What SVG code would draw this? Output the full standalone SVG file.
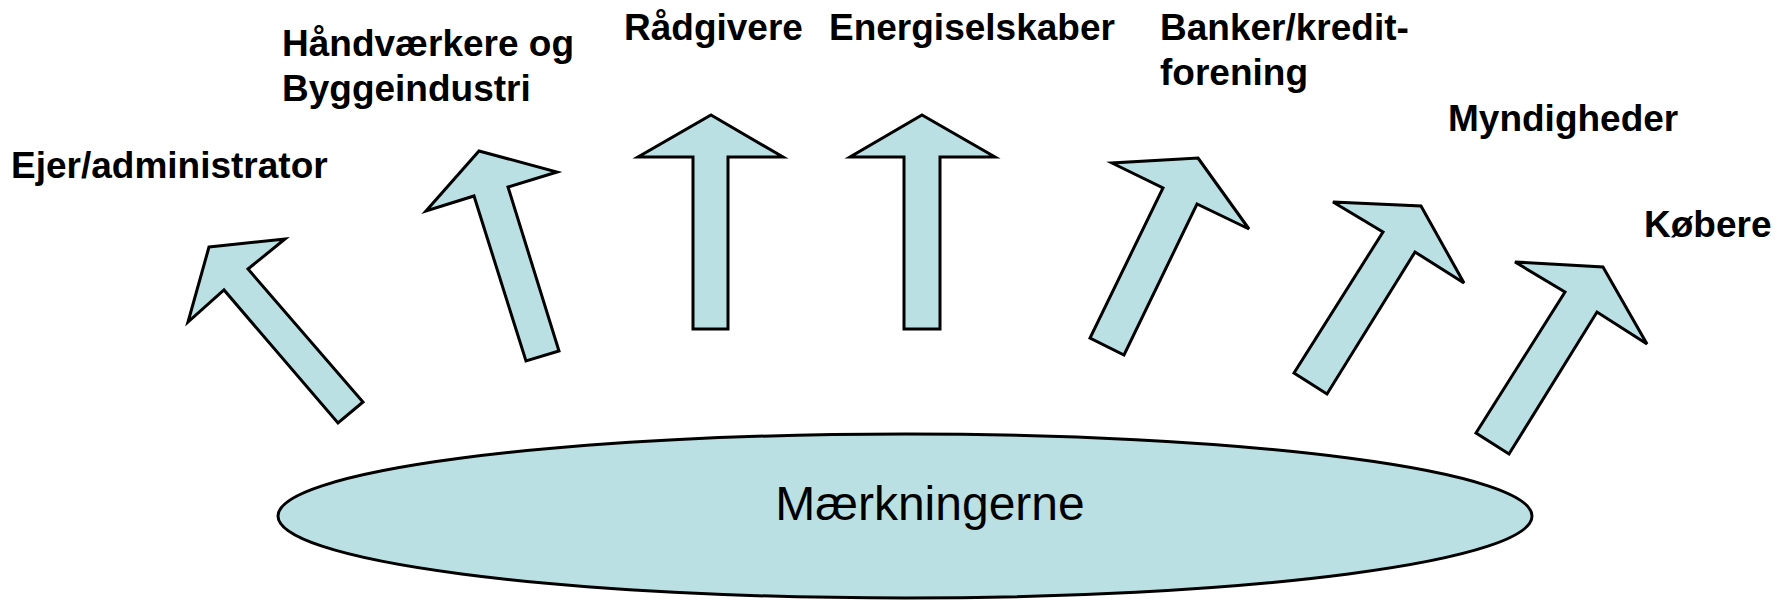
<svg xmlns="http://www.w3.org/2000/svg" width="1788" height="600" viewBox="0 0 1788 600">
  <style>
    .arrow { fill: #BAE0E3; stroke: #000; stroke-width: 3; stroke-linejoin: miter; }
    .lbl { font-family: "Liberation Sans", Arial, sans-serif; font-weight: bold; font-size: 37px; fill: #000; }
    .main { font-family: "Liberation Sans", Arial, sans-serif; font-size: 48px; fill: #000; }
  </style>
  <rect width="1788" height="600" fill="#fff"/>
  <g id="node-maerkningerne">
    <ellipse cx="905" cy="516" rx="627" ry="82" fill="#BAE0E3" stroke="#000" stroke-width="3"/>
    <text class="main" x="930" y="520" text-anchor="middle">Mærkningerne</text>
  </g>
  <g id="connectors">
    <polygon id="arrow-ejer" class="arrow" points="209,247 285,239 248,269 363,402 338,423 224,290 188,322"/>
    <polygon id="arrow-haandvaerkere" class="arrow" points="479,151 557,172 508,187 559,351 526,361 474,196 426,211"/>
    <polygon id="arrow-raadgivere" class="arrow" points="711,115 783,157 728,157 728,329 693,329 693,157 638,157"/>
    <polygon id="arrow-energi" class="arrow" points="922,115 995,157 940,157 940,329 904,329 904,157 850,157"/>
    <polygon id="arrow-banker" class="arrow" points="1198,158 1249,229 1197,204 1124,355 1090,338 1163,188 1112,163"/>
    <polygon id="arrow-myndigheder" class="arrow" points="1421,206 1464,283 1415,252 1327,394 1294,373 1383,232 1333,202"/>
    <polygon id="arrow-koebere" class="arrow" points="1603,267 1647,344 1597,312 1509,454 1476,433 1565,292 1515,262"/>
  </g>
  <g id="node-ejer"><text class="lbl" x="11" y="178">Ejer/administrator</text></g>
  <g id="node-haandvaerkere"><text class="lbl" x="282" y="56">Håndværkere og</text><text class="lbl" x="282" y="101">Byggeindustri</text></g>
  <g id="node-raadgivere"><text class="lbl" x="624" y="40">Rådgivere</text></g>
  <g id="node-energi"><text class="lbl" x="829" y="40">Energiselskaber</text></g>
  <g id="node-banker"><text class="lbl" x="1160" y="40">Banker/kredit-</text><text class="lbl" x="1160" y="85">forening</text></g>
  <g id="node-myndigheder"><text class="lbl" x="1448" y="131">Myndigheder</text></g>
  <g id="node-koebere"><text class="lbl" x="1644" y="237">Købere</text></g>
</svg>
